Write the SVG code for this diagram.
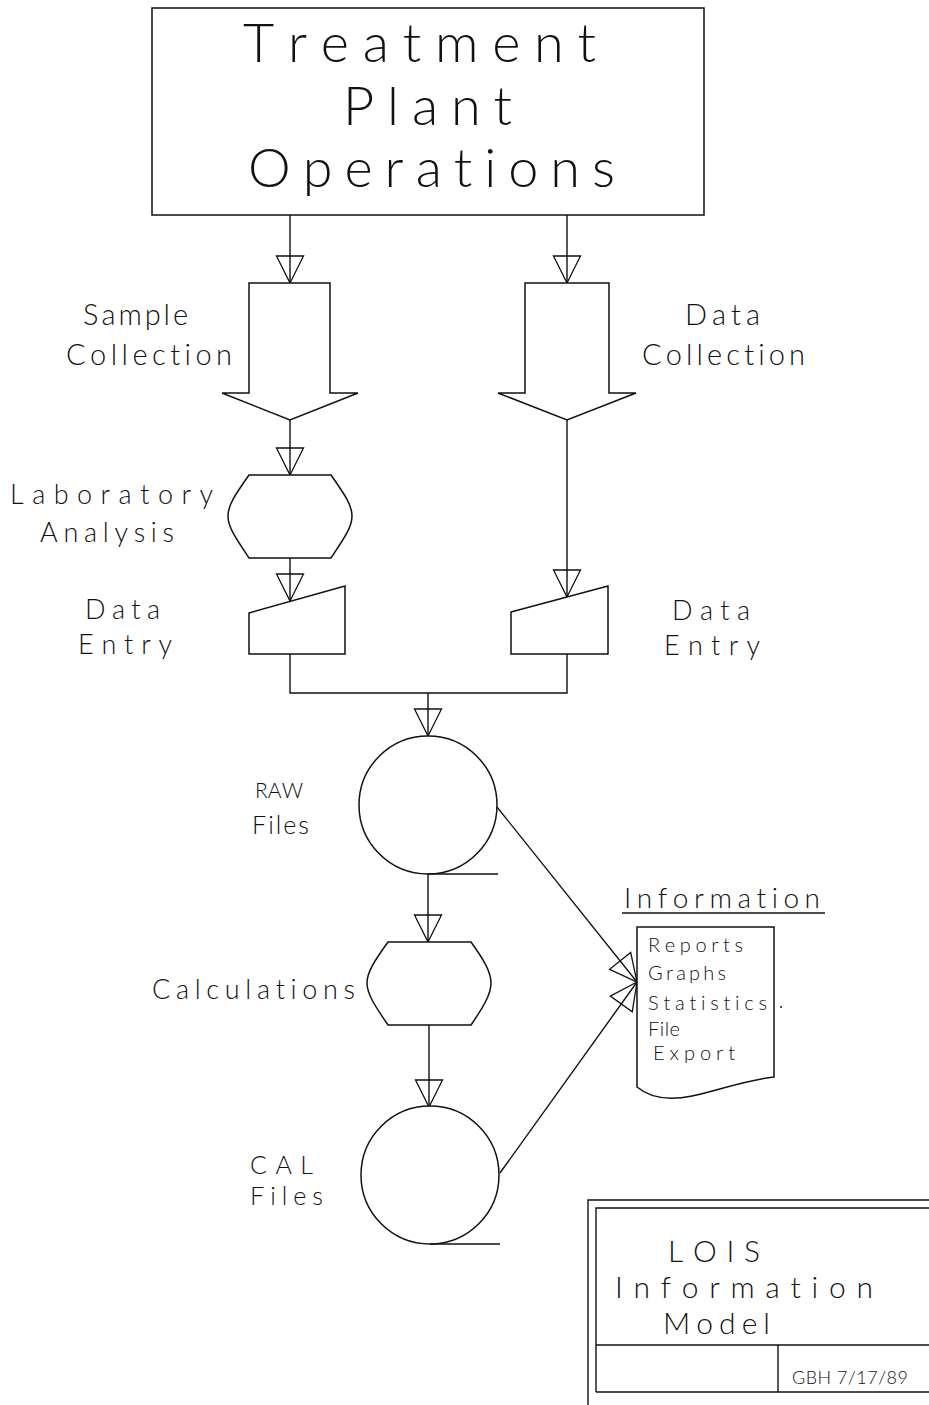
<svg xmlns="http://www.w3.org/2000/svg" width="929" height="1405" viewBox="0 0 929 1405">
  <style>
    .ln { fill: none; stroke: #111; stroke-width: 1.4; }
    .sh { fill: #fff; stroke: #111; stroke-width: 1.5; }
    .t  { font-family: "Lato", "DejaVu Sans", sans-serif; font-weight: 300; fill: #111;
          font-variant-ligatures: none; font-feature-settings: "liga" 0, "kern" 0; }
  </style>
  <defs>
    <marker id="tri" viewBox="-29 -16 32 32" refX="0" refY="0" markerWidth="32" markerHeight="32" markerUnits="userSpaceOnUse" orient="auto">
      <path d="M0,0 L-27,-13.5 L-27,13.5 Z" fill="none" stroke="#111" stroke-width="1.3"/>
    </marker>
  </defs>

  <rect width="929" height="1405" fill="#fff"/>

  <!-- connectors -->
  <g id="connectors" class="ln">
    <path d="M290,215 V283" marker-end="url(#tri)"/>
    <path d="M567,215 V283" marker-end="url(#tri)"/>
    <path d="M290,420 V475" marker-end="url(#tri)"/>
    <path d="M290,558 V601" marker-end="url(#tri)"/>
    <path d="M567,420 V597" marker-end="url(#tri)"/>
    <path d="M290,654 V693 H567 V654"/>
    <path d="M428,693 V736" marker-end="url(#tri)"/>
    <path d="M428,874 V942" marker-end="url(#tri)"/>
    <path d="M429,1025 V1107" marker-end="url(#tri)"/>
    <path d="M497,807 L637,982" marker-end="url(#tri)"/>
    <path d="M500,1173 L637,982" marker-end="url(#tri)"/>
  </g>

  <!-- source box -->
  <g id="treatment-plant">
    <rect class="sh" x="152" y="8" width="552" height="207"/>
    <text class="t" x="243" y="62" font-size="54" textLength="353" lengthAdjust="spacing">Treatment</text>
    <text class="t" x="343" y="125" font-size="54" textLength="169" lengthAdjust="spacing">Plant</text>
    <text class="t" x="248" y="187" font-size="54" textLength="367" lengthAdjust="spacing">Operations</text>
  </g>

  <!-- collection block arrows -->
  <g id="sample-collection">
    <path class="sh" d="M249,283 H330 V393 H358 L290,420 L222,393 H249 Z"/>
    <text class="t" x="83" y="325" font-size="29" textLength="105" lengthAdjust="spacing">Sample</text>
    <text class="t" x="66" y="365" font-size="29" textLength="166" lengthAdjust="spacing">Collection</text>
  </g>
  <g id="data-collection">
    <path class="sh" d="M525,283 H609 V393 H636 L567,420 L498,393 H525 Z"/>
    <text class="t" x="685" y="325" font-size="29" textLength="75" lengthAdjust="spacing">Data</text>
    <text class="t" x="642" y="365" font-size="29" textLength="163" lengthAdjust="spacing">Collection</text>
  </g>

  <!-- laboratory analysis -->
  <g id="lab-analysis">
    <path class="sh" d="M249,475 H331 C345,495 352,505 352,516 C352,527 345,537 331,558 H249 C235,537 228,527 228,516 C228,505 235,495 249,475 Z"/>
    <text class="t" x="10" y="504" font-size="27" textLength="203" lengthAdjust="spacing">Laboratory</text>
    <text class="t" x="40" y="542" font-size="27" textLength="134" lengthAdjust="spacing">Analysis</text>
  </g>

  <!-- manual data entry -->
  <g id="data-entry-left">
    <path class="sh" d="M249,613 L345,586 V654 H249 Z"/>
    <text class="t" x="85" y="619" font-size="27" textLength="75" lengthAdjust="spacing">Data</text>
    <text class="t" x="78" y="654" font-size="27" textLength="94" lengthAdjust="spacing">Entry</text>
  </g>
  <g id="data-entry-right">
    <path class="sh" d="M511,612 L608,586 V654 H511 Z"/>
    <text class="t" x="672" y="620" font-size="27" textLength="78" lengthAdjust="spacing">Data</text>
    <text class="t" x="664" y="655" font-size="27" textLength="96" lengthAdjust="spacing">Entry</text>
  </g>

  <!-- raw files -->
  <g id="raw-files">
    <circle class="sh" cx="428" cy="805" r="69"/>
    <path class="ln" d="M428,874 H498"/>
    <text class="t" x="255" y="798" font-size="21" textLength="48" lengthAdjust="spacing">RAW</text>
    <text class="t" x="252" y="834" font-size="25" textLength="57" lengthAdjust="spacing">Files</text>
  </g>

  <!-- calculations -->
  <g id="calculations">
    <path class="sh" d="M388,942 H471 C484,960 491,972 491,983 C491,994 484,1006 471,1025 H388 C375,1006 367,994 367,983 C367,972 375,960 388,942 Z"/>
    <text class="t" x="152" y="999" font-size="27" textLength="203" lengthAdjust="spacing">Calculations</text>
  </g>

  <!-- cal files -->
  <g id="cal-files">
    <circle class="sh" cx="430" cy="1175" r="69"/>
    <path class="ln" d="M430,1244 H500"/>
    <text class="t" x="250" y="1174" font-size="25" textLength="63" lengthAdjust="spacing">CAL</text>
    <text class="t" x="250" y="1205" font-size="25" textLength="73" lengthAdjust="spacing">Files</text>
  </g>

  <!-- information output document -->
  <g id="information">
    <text class="t" x="624" y="908" font-size="28" textLength="196" lengthAdjust="spacing">Information</text>
    <path class="ln" d="M622,913 H825"/>
    <path class="sh" d="M637,927 H774 V1077 C745,1080 720,1090 692,1096 C667,1101 650,1098 637,1087 Z"/>
    <text class="t" x="648" y="952" font-size="20" textLength="95" lengthAdjust="spacing">Reports</text>
    <text class="t" x="648" y="980" font-size="20" textLength="78" lengthAdjust="spacing">Graphs</text>
    <text class="t" x="648" y="1010" font-size="20" textLength="119" lengthAdjust="spacing">Statistics</text>
    <text class="t" x="648" y="1036" font-size="20" textLength="32" lengthAdjust="spacing">File</text>
    <text class="t" x="653" y="1060" font-size="20" textLength="82" lengthAdjust="spacing">Export</text>
    <circle cx="781" cy="1007" r="1" fill="#111"/>
  </g>

  <!-- title block -->
  <g id="title-block" class="ln">
    <path d="M588,1405 V1200 H929"/>
    <path d="M596,1392 V1208 H929"/>
    <path d="M596,1345 H929"/>
    <path d="M596,1392 H929"/>
    <path d="M778,1345 V1392"/>
  </g>
  <g id="title-text">
    <text class="t" x="668" y="1262" font-size="30" textLength="92" lengthAdjust="spacing">LOIS</text>
    <text class="t" x="615" y="1298" font-size="30" textLength="258" lengthAdjust="spacing">Information</text>
    <text class="t" x="663" y="1334" font-size="30" textLength="107" lengthAdjust="spacing">Model</text>
    <text class="t" x="792" y="1384" font-size="18" textLength="116" lengthAdjust="spacing">GBH 7/17/89</text>
  </g>
</svg>
